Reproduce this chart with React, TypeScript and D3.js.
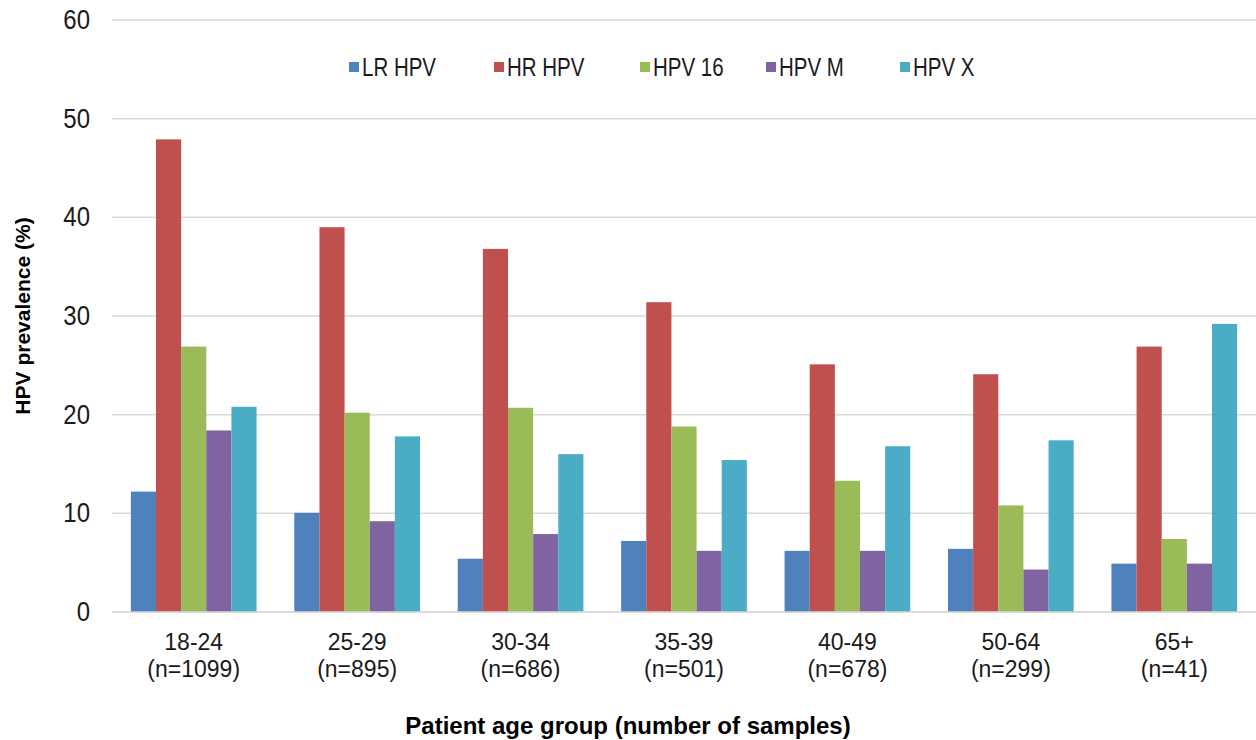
import { useEffect, useRef } from 'react';
import * as d3 from 'd3';

const ageGroups = ['18-24', '25-29', '30-34', '35-39', '40-49', '50-64', '65+'];
const sampleCounts = ['(n=1099)', '(n=895)', '(n=686)', '(n=501)', '(n=678)', '(n=299)', '(n=41)'];
const seriesNames = ['LR HPV', 'HR HPV', 'HPV 16', 'HPV M', 'HPV X'];
const seriesColors = ['#4F81BD', '#C0504D', '#9BBB59', '#8064A2', '#4BACC6'];

const lrHpv = [12.2, 10.05, 5.4, 7.2, 6.2, 6.4, 4.9];
const hrHpv = [47.9, 39.0, 36.8, 31.4, 25.1, 24.1, 26.9];
const hpv16 = [26.9, 20.2, 20.7, 18.8, 13.3, 10.8, 7.4];
const hpvM = [18.4, 9.2, 7.9, 6.2, 6.2, 4.3, 4.9];
const hpvX = [20.8, 17.8, 16.0, 15.4, 16.8, 17.4, 29.2];

const yTicks = [0, 10, 20, 30, 40, 50, 60];
const legendX = [349, 494, 640, 766, 900];

const W = 1256;
const H = 740;
const FONT = '"Liberation Sans", Arial, sans-serif';

export default function App() {
  const svgRef = useRef<SVGSVGElement>(null);

  useEffect(() => {
    if (!svgRef.current) return;
    const svg = d3.select(svgRef.current);
    svg.selectAll('*').remove();

    const allSeries = [lrHpv, hrHpv, hpv16, hpvM, hpvX];
    const left = 112;
    const right = 1256;
    const top = 20;
    const bottom = 612;

    const x0 = d3.scaleBand<string>()
      .domain(ageGroups)
      .range([left, right])
      .paddingInner(0.231)
      .paddingOuter(0.1155);

    const x1 = d3.scaleBand<string>()
      .domain(seriesNames)
      .range([0, x0.bandwidth()])
      .padding(0);

    const y = d3.scaleLinear().domain([0, 60]).range([bottom, top]);

    svg.append('rect').attr('width', W).attr('height', H).attr('fill', '#fff');

    // gridlines
    svg.append('g')
      .selectAll('line')
      .data(yTicks)
      .enter().append('line')
      .attr('x1', left)
      .attr('x2', right)
      .attr('y1', d => y(d))
      .attr('y2', d => y(d))
      .attr('stroke', '#D9D9D9')
      .attr('stroke-width', 1.5);

    // y tick labels (source text is slightly stretched vertically)
    svg.append('g')
      .selectAll('text')
      .data(yTicks)
      .enter().append('text')
      .attr('transform', d => `translate(90,${y(d) + 9}) scale(1,1.12)`)
      .attr('text-anchor', 'end')
      .attr('font-family', FONT)
      .attr('font-size', 24)
      .attr('fill', '#1a1a1a')
      .text(d => d);

    // bars
    const groups = svg.append('g')
      .selectAll('g')
      .data(ageGroups)
      .enter().append('g')
      .attr('transform', d => `translate(${x0(d)},0)`);

    groups.selectAll('rect')
      .data((_, gi) => seriesNames.map((name, si) => ({ name, si, value: allSeries[si][gi] })))
      .enter().append('rect')
      .attr('x', d => x1(d.name)!)
      .attr('width', x1.bandwidth())
      .attr('y', d => y(d.value))
      .attr('height', d => y(0) - y(d.value))
      .attr('fill', d => seriesColors[d.si]);

    // x axis line
    svg.append('line')
      .attr('x1', left)
      .attr('x2', right)
      .attr('y1', bottom)
      .attr('y2', bottom)
      .attr('stroke', '#D9D9D9')
      .attr('stroke-width', 1.5);

    // category labels, two lines
    const cx = (d: string) => x0(d)! + x0.bandwidth() / 2;
    svg.append('g')
      .selectAll('text')
      .data(ageGroups)
      .enter().append('text')
      .attr('x', cx)
      .attr('y', 650)
      .attr('text-anchor', 'middle')
      .attr('font-family', FONT)
      .attr('font-size', 23)
      .attr('fill', '#1a1a1a')
      .text(d => d);
    svg.append('g')
      .selectAll('text')
      .data(ageGroups)
      .enter().append('text')
      .attr('x', cx)
      .attr('y', 677)
      .attr('text-anchor', 'middle')
      .attr('font-family', FONT)
      .attr('font-size', 23)
      .attr('fill', '#1a1a1a')
      .text((_, i) => sampleCounts[i]);

    // axis titles
    svg.append('text')
      .attr('x', 628)
      .attr('y', 734)
      .attr('text-anchor', 'middle')
      .attr('font-family', FONT)
      .attr('font-weight', 'bold')
      .attr('font-size', 24)
      .attr('fill', '#000')
      .text('Patient age group (number of samples)');

    svg.append('text')
      .attr('transform', 'translate(30,316) rotate(-90)')
      .attr('text-anchor', 'middle')
      .attr('font-family', FONT)
      .attr('font-weight', 'bold')
      .attr('font-size', 21)
      .attr('fill', '#000')
      .text('HPV prevalence (%)');

    // legend
    const legend = svg.append('g')
      .selectAll('g')
      .data(seriesNames)
      .enter().append('g')
      .attr('transform', (_, i) => `translate(${legendX[i]},0)`);
    legend.append('rect')
      .attr('x', 0)
      .attr('y', 62)
      .attr('width', 10)
      .attr('height', 10)
      .attr('fill', (_, i) => seriesColors[i]);
    legend.append('text')
      .attr('transform', 'translate(13,76) scale(1,1.3)')
      .attr('font-family', FONT)
      .attr('font-size', 20.5)
      .attr('fill', '#1a1a1a')
      .text(d => d);
  }, []);

  return (
    <svg
      ref={svgRef}
      width={W}
      height={H}
      viewBox={`0 0 ${W} ${H}`}
      style={{ position: 'absolute', left: 0, top: 0, display: 'block' }}
    />
  );
}
